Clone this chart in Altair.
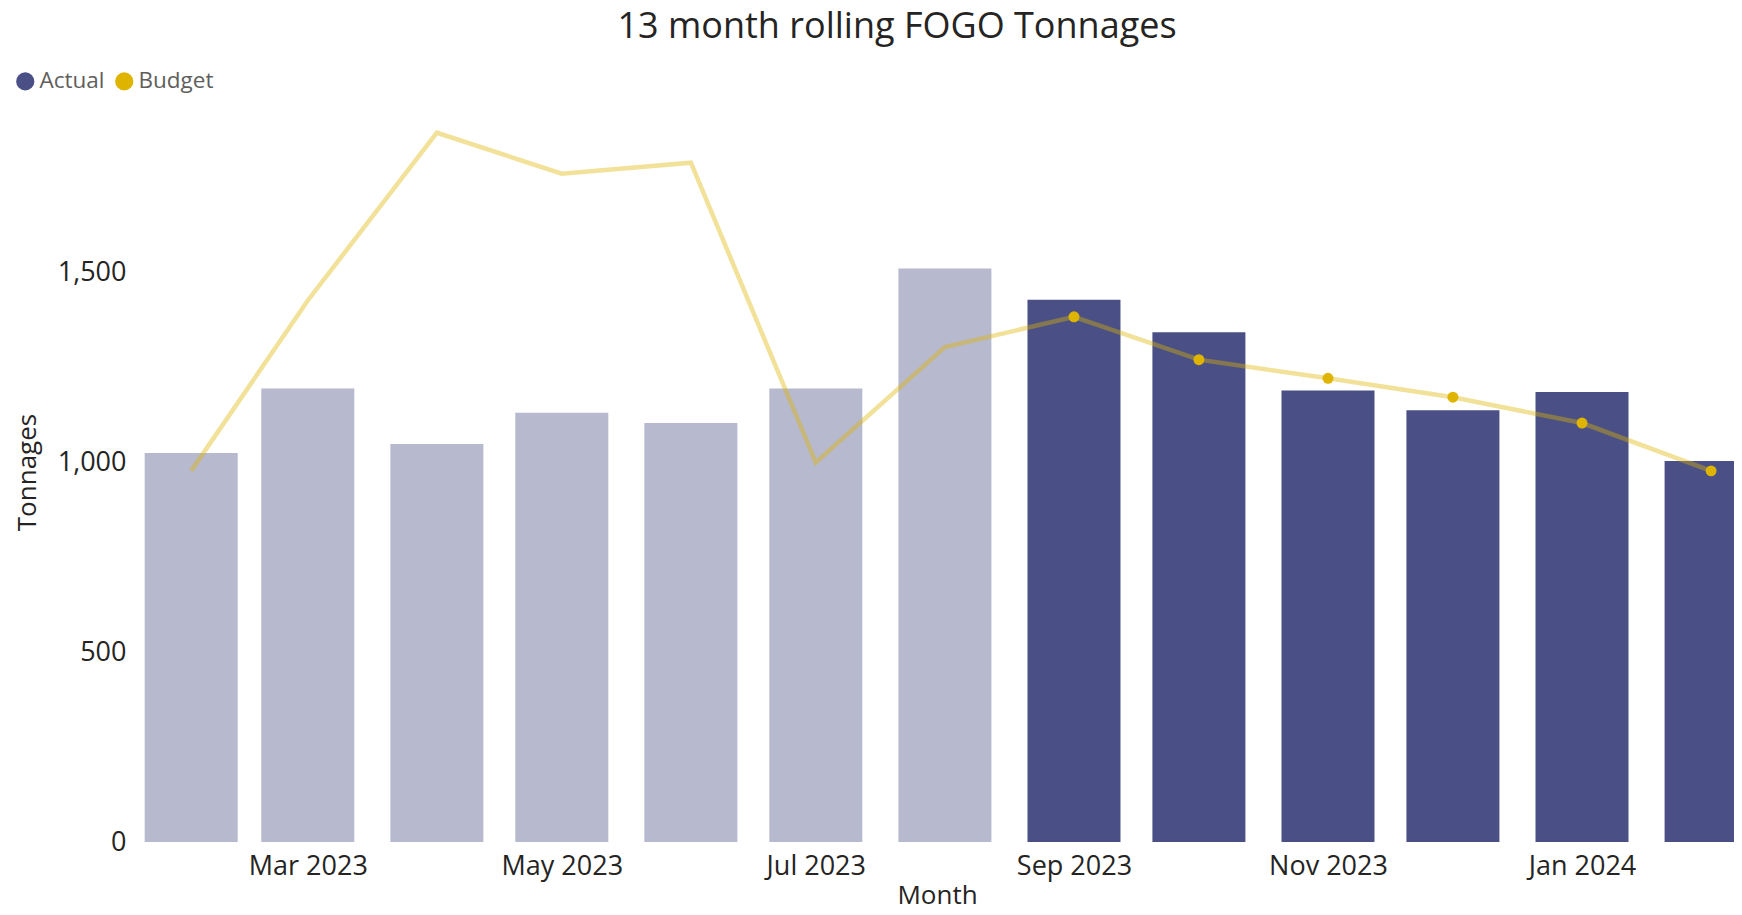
import altair as alt
import pandas as pd

months = ["2023-02-01", "2023-03-01", "2023-04-01", "2023-05-01", "2023-06-01",
          "2023-07-01", "2023-08-01", "2023-09-01", "2023-10-01", "2023-11-01",
          "2023-12-01", "2024-01-01", "2024-02-01"]
actual = [1025, 1195, 1049, 1131, 1104, 1195, 1511, 1429, 1343, 1190, 1138, 1186, 1004]
budget = [978, 1427, 1869, 1761, 1790, 1000, 1304, 1384, 1271, 1222, 1172, 1104, 978]
faded = [True] * 7 + [False] * 6

NAVY = "#4A5085"
GOLD = "#DEB400"
FONT = "Open Sans"

df = pd.DataFrame({"Month": months, "Actual": actual, "Budget": budget, "faded": faded})

x_scale = alt.Scale(
    type="utc",
    padding=0,
    domain=[alt.DateTime(year=2023, month=1, date=19, hours=17, utc=True),
            alt.DateTime(year=2024, month=2, date=6, hours=12, utc=True)],
)
x_values = [alt.DateTime(year=y, month=m, date=1, utc=True)
            for y, m in [(2023, 3), (2023, 5), (2023, 7), (2023, 9), (2023, 11), (2024, 1)]]

x_enc = alt.X("Month:T", scale=x_scale, title="Month",
              axis=alt.Axis(values=x_values, labelExpr="utcFormat(datum.value, '%b %Y')",
                            grid=False, ticks=False, domain=False,
                            labelFontSize=27, labelFont=FONT, labelColor="#252423",
                            labelPadding=11, titleFontSize=26, titleFont=FONT,
                            titleFontWeight="normal", titleColor="#252423", titlePadding=3))

y_scale = alt.Scale(domain=[0, 1950], nice=False)
y_axis = alt.Axis(values=[0, 500, 1000, 1500], grid=False, ticks=False, domain=False,
                  labelFontSize=27, labelFont=FONT, labelColor="#252423", labelPadding=14,
                  titleFontSize=26, titleFont=FONT, titleFontWeight="normal",
                  titleColor="#252423", titlePadding=17)

color_scale = alt.Scale(domain=["Actual", "Budget"], range=[NAVY, GOLD])
legend = alt.Legend(orient="none", legendX=-126, legendY=-32, direction="horizontal",
                    title=None, symbolType="circle", symbolSize=330, symbolOpacity=1,
                    symbolStrokeWidth=0, labelFontSize=22.5, labelFont=FONT,
                    labelColor="#605E5C", labelOffset=3, columnPadding=8)

base = alt.Chart(df)

bars = base.transform_calculate(series="'Actual'").mark_bar(width=93, clip=True).encode(
    x=x_enc,
    y=alt.Y("Actual:Q", scale=y_scale, axis=y_axis, title="Tonnages"),
    color=alt.Color("series:N", scale=color_scale, legend=legend),
    opacity=alt.condition("datum.faded", alt.value(0.4), alt.value(1.0)),
)

line = base.mark_line(color=GOLD, opacity=0.4, strokeWidth=4.5, clip=True).encode(
    x=alt.X("Month:T", scale=x_scale),
    y=alt.Y("Budget:Q", scale=y_scale),
)

points = base.transform_filter("!datum.faded").transform_calculate(series="'Budget'").mark_point(
    filled=True, size=120, opacity=1, shape="circle").encode(
    x=alt.X("Month:T", scale=x_scale),
    y=alt.Y("Budget:Q", scale=y_scale),
    color=alt.Color("series:N", scale=color_scale, legend=legend),
)

chart = alt.layer(bars, line, points).properties(
    width=1594, height=740,
    autosize=alt.AutoSizeParams(type="none"),
    padding={"left": 132, "top": 94, "right": 0, "bottom": 65},
    title=alt.Title("13 month rolling FOGO Tonnages", fontSize=36, font=FONT,
                    fontWeight="normal", color="#252423", anchor="middle",
                    frame="group", dx=-40, offset=24),
).configure_view(stroke=None)

chart.save("out.html", embed_options={"renderer": "svg", "actions": False})
